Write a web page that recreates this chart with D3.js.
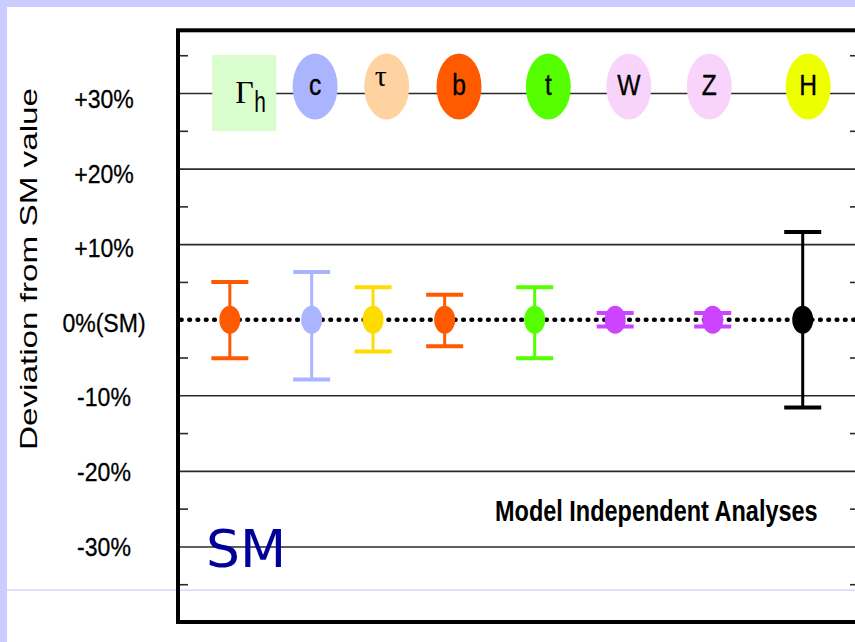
<!DOCTYPE html>
<html>
<head>
<meta charset="utf-8">
<script src="https://cdn.jsdelivr.net/npm/d3@7"></script>
<style>
  html, body { margin: 0; padding: 0; background: #ffffff; }
  svg { display: block; }
</style>
</head>
<body>
<svg id="chart" width="855" height="642"></svg>
<script>
// ---------------- data ----------------
const categories   = ["Γh", "c", "τ", "b", "t", "W", "Z", "H"];
// horizontal placement on an abstract 0-100 slot axis
const pointSlot    = [7.6, 19.6, 28.6, 39.1, 52.3, 64.1, 78.4, 91.6];
const labelSlot    = [9.7, 20.1, 30.6, 41.2, 54.3, 66.1, 77.9, 92.4];
// deviation from SM (%) and asymmetric errors (%)
const deviation    = [0, 0, 0, 0, 0, 0, 0, 0];
const errUp        = [5.0, 6.3, 4.3, 3.3, 4.3, 0.9, 0.9, 11.6];
const errDown      = [5.1, 7.9, 4.2, 3.5, 5.1, 0.9, 0.9, 11.6];
const majorTicks   = [30, 20, 10, 0, -10, -20, -30];
const majorLabels  = ["+30%", "+20%", "+10%", "0%(SM)", "-10%", "-20%", "-30%"];
const minorTicks   = [35, 25, 15, 5, -5, -15, -25, -35];

// styles
const barColors    = ["#ff5a00", "#aab4ff", "#ffdc00", "#ff5a00", "#55ff00", "#cc44ff", "#cc44ff", "#000000"];
const labelColors  = ["#d9fdcc", "#aab4ff", "#ffd2a2", "#ff5a00", "#55ff00", "#f8d4fa", "#f8d4fa", "#eeff00"];

// ---------------- layout ----------------
const svg = d3.select("#chart");
const W = 855, H = 642;
const frame = { left: 178, right: 860, top: 30.3, bottom: 622 };

const x = d3.scaleLinear().domain([0, 100]).range([frame.left, frame.right]);
const y = d3.scaleLinear().domain([-40, 38.3]).range([frame.bottom, frame.top]);
const yLab = d3.scaleLinear().domain([-30, 30]).range([546, 98.5]);

const data = categories.map((c, i) => ({
  name: c, px: pointSlot[i], lx: labelSlot[i], v: deviation[i],
  up: errUp[i], down: errDown[i], bar: barColors[i], lab: labelColors[i]
}));

// ---------------- background ----------------
const lav = "#ccccff";
svg.append("rect").attr("x", 0).attr("y", 0).attr("width", W).attr("height", H).attr("fill", "#fff");
svg.append("rect").attr("x", 0).attr("y", 0).attr("width", W).attr("height", 7).attr("fill", lav);
svg.append("rect").attr("x", 0).attr("y", 0).attr("width", 7).attr("height", H).attr("fill", lav);
svg.append("rect").attr("x", 7).attr("y", 589.5).attr("width", W).attr("height", 1.2).attr("fill", lav);

// ---------------- grid & ticks ----------------
const plotW = frame.right - frame.left;
const grid = svg.append("g")
  .attr("transform", `translate(${frame.left},0)`)
  .call(d3.axisRight(y).tickValues(majorTicks.filter(d => d !== 0)).tickSize(plotW).tickFormat(""));
grid.select(".domain").remove();
grid.selectAll("line").attr("stroke", "#2a2a2a").attr("stroke-width", 1.6);

const minorL = svg.append("g")
  .attr("transform", `translate(${frame.left},0)`)
  .call(d3.axisRight(y).tickValues(minorTicks).tickSize(10).tickFormat(""));
minorL.select(".domain").remove();
minorL.selectAll("line").attr("stroke", "#2a2a2a").attr("stroke-width", 1.6);

const minorR = svg.append("g")
  .attr("transform", `translate(${frame.right},0)`)
  .call(d3.axisLeft(y).tickValues(minorTicks).tickSize(10).tickFormat(""));
minorR.select(".domain").remove();
minorR.selectAll("line").attr("stroke", "#2a2a2a").attr("stroke-width", 1.6);

// y tick labels
svg.append("g").selectAll("text").data(majorTicks).join("text")
  .attr("transform", d => `translate(104,${yLab(d) + 9.5}) scale(0.87,1)`)
  .attr("text-anchor", "middle")
  .attr("font-family", "'Liberation Sans', Arial, sans-serif")
  .attr("font-size", 26.5)
  .attr("fill", "#000")
  .attr("stroke", "#000").attr("stroke-width", 0.3)
  .text((d, i) => majorLabels[i]);

// y title
svg.append("text")
  .attr("transform", `translate(37,269) rotate(-90) scale(1.385,1)`)
  .attr("text-anchor", "middle")
  .attr("font-family", "'Liberation Sans', Arial, sans-serif")
  .attr("font-size", 24)
  .attr("fill", "#000")
  .text("Deviation from SM value");

// ---------------- SM dotted line ----------------
svg.append("line")
  .attr("x1", frame.left + 3).attr("x2", frame.right)
  .attr("y1", y(0)).attr("y2", y(0))
  .attr("stroke", "#000").attr("stroke-width", 4.6)
  .attr("stroke-linecap", "round")
  .attr("stroke-dasharray", "0.6 7.7");

// ---------------- error bars ----------------
const eb = svg.append("g").selectAll("g").data(data).join("g");
eb.append("line")
  .attr("x1", d => x(d.px)).attr("x2", d => x(d.px))
  .attr("y1", d => y(d.v + d.up)).attr("y2", d => y(d.v - d.down))
  .attr("stroke", d => d.bar).attr("stroke-width", 3);
eb.append("line")
  .attr("x1", d => x(d.px) - 18.5).attr("x2", d => x(d.px) + 18.5)
  .attr("y1", d => y(d.v + d.up)).attr("y2", d => y(d.v + d.up))
  .attr("stroke", d => d.bar).attr("stroke-width", 4);
eb.append("line")
  .attr("x1", d => x(d.px) - 18.5).attr("x2", d => x(d.px) + 18.5)
  .attr("y1", d => y(d.v - d.down)).attr("y2", d => y(d.v - d.down))
  .attr("stroke", d => d.bar).attr("stroke-width", 4);
eb.append("ellipse")
  .attr("cx", d => x(d.px)).attr("cy", d => y(d.v))
  .attr("rx", 10.5).attr("ry", 14)
  .attr("fill", d => d.bar);

// ---------------- label row ----------------
const rowY = y(30);
const lg = svg.append("g").selectAll("g").data(data).join("g");
lg.filter(d => d.name === "Γh").append("rect")
  .attr("x", d => x(d.lx) - 32).attr("y", rowY - 38)
  .attr("width", 64).attr("height", 76)
  .attr("fill", d => d.lab);
lg.filter(d => d.name !== "Γh").append("ellipse")
  .attr("cx", d => x(d.lx)).attr("cy", rowY - 6.5)
  .attr("rx", 22.5).attr("ry", 33)
  .attr("fill", d => d.lab);

const sansLetters = ["c", "b", "t", "W", "Z", "H"];
lg.filter(d => sansLetters.includes(d.name)).append("text")
  .attr("transform", d => `translate(${x(d.lx)},${rowY + 2}) scale(0.82,1)`)
  .attr("text-anchor", "middle")
  .attr("font-family", "'Liberation Sans', Arial, sans-serif")
  .attr("font-size", 30)
  .attr("fill", "#000")
  .attr("stroke", "#000").attr("stroke-width", 0.4)
  .text(d => d.name);

lg.filter(d => d.name === "τ").append("text")
  .attr("x", d => x(d.lx) - 6).attr("y", rowY - 7)
  .attr("text-anchor", "middle")
  .attr("font-family", "'Liberation Serif', 'Times New Roman', serif")
  .attr("font-size", 30)
  .attr("fill", "#000")
  .text("τ");

const gh = lg.filter(d => d.name === "Γh");
gh.append("text")
  .attr("x", d => x(d.lx) - 9).attr("y", rowY + 10)
  .attr("text-anchor", "start")
  .attr("font-family", "'Liberation Serif', 'Times New Roman', serif")
  .attr("font-size", 32)
  .attr("fill", "#000")
  .text("Γ");
gh.append("text")
  .attr("transform", d => `translate(${x(d.lx) + 10},${rowY + 19}) scale(0.72,1)`)
  .attr("font-family", "'Liberation Sans', Arial, sans-serif")
  .attr("font-size", 29)
  .attr("fill", "#000")
  .text("h");

// ---------------- annotations ----------------
svg.append("text")
  .attr("transform", "translate(495,521) scale(0.81,1)")
  .attr("font-family", "'Liberation Sans', Arial, sans-serif")
  .attr("font-weight", "bold")
  .attr("font-size", 29)
  .attr("fill", "#000")
  .text("Model Independent Analyses");

svg.append("text")
  .attr("transform", "translate(206,567) scale(1.05,1)")
  .attr("font-family", "'DejaVu Sans', sans-serif")
  .attr("font-size", 51)
  .attr("fill", "#000099")
  .text("SM");

// ---------------- frame ----------------
svg.append("rect")
  .attr("x", frame.left).attr("y", frame.top)
  .attr("width", frame.right - frame.left).attr("height", frame.bottom - frame.top)
  .attr("fill", "none").attr("stroke", "#000").attr("stroke-width", 4);
</script>
</body>
</html>
